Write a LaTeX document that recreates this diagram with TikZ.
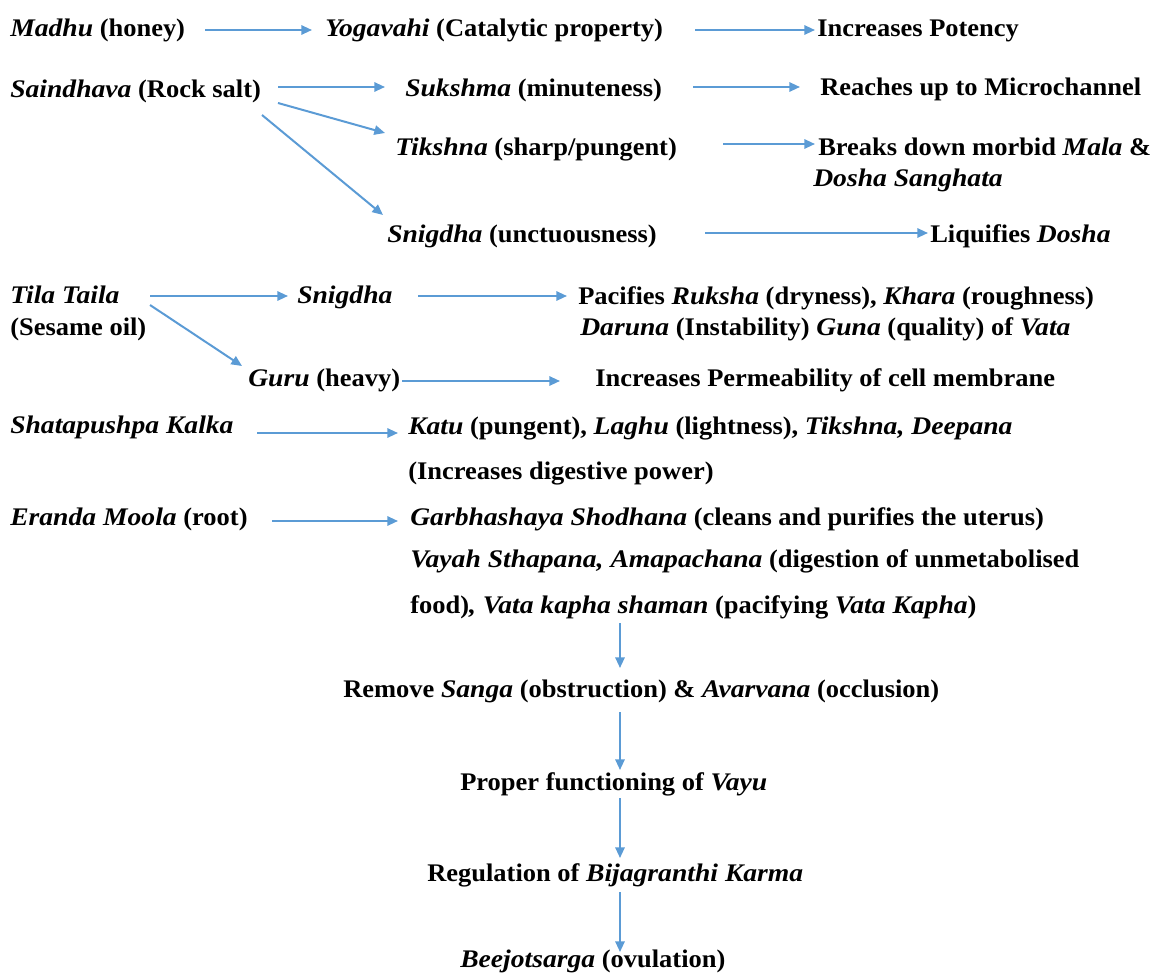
\documentclass[tikz,border=0pt]{standalone}
\usepackage{fontspec}
\setmainfont{Liberation Serif}[BoldFeatures={FakeStretch=1.045},BoldItalicFeatures={FakeStretch=1.09}]
\usetikzlibrary{arrows.meta,calc}
\definecolor{arrowblue}{HTML}{5B9BD5}
\begin{document}
\begin{tikzpicture}[x=0.75pt,y=-0.75pt,
  main node/.style={anchor=base west,inner sep=0pt,font=\bfseries\fontsize{19}{22}\selectfont},
  link/.style={draw=arrowblue,line width=1.5pt,-{Triangle[length=8pt,width=7pt]}}]
  \useasboundingbox (0,0) rectangle (1150,974);

  \node[main node] (1) at (10,37) {\textit{Madhu} (honey)};
  \node[main node] (2) at (325,37) {\textit{Yogavahi} (Catalytic property)};
  \node[main node] (3) at (817,37) {Increases Potency};
  \node[main node] (4) at (10,98) {\textit{Saindhava} (Rock salt)};
  \node[main node] (5) at (405,97) {\textit{Sukshma} (minuteness)};
  \node[main node] (6) at (820,96) {Reaches up to Microchannel};
  \node[main node] (7) at (395,156) {\textit{Tikshna} (sharp/pungent)};
  \node[main node] (8) at (818,155) {Breaks down morbid \textit{Mala} \&};
  \node[main node] (9) at (813,186) {\textit{Dosha Sanghata}};
  \node[main node] (10) at (387,242) {\textit{Snigdha} (unctuousness)};
  \node[main node] (11) at (930,242) {Liquifies \textit{Dosha}};
  \node[main node] (12) at (10,303) {\textit{Tila Taila}};
  \node[main node] (13) at (10,335) {(Sesame oil)};
  \node[main node] (14) at (297,303) {\textit{Snigdha}};
  \node[main node] (15) at (578,304) {Pacifies \textit{Ruksha} (dryness), \textit{Khara} (roughness)};
  \node[main node] (16) at (580,335) {\textit{Daruna} (Instability) \textit{Guna} (quality) of \textit{Vata}};
  \node[main node] (17) at (248,386) {\textit{Guru} (heavy)};
  \node[main node] (18) at (595,386) {Increases Permeability of cell membrane};
  \node[main node] (19) at (10,433) {\textit{Shatapushpa Kalka}};
  \node[main node] (20) at (408,434) {\textit{Katu} (pungent), \textit{Laghu} (lightness), \textit{Tikshna, Deepana}};
  \node[main node] (21) at (408,479) {(Increases digestive power)};
  \node[main node] (22) at (10,525) {\textit{Eranda Moola} (root)};
  \node[main node] (23) at (410,525) {\textit{Garbhashaya Shodhana} (cleans and purifies the uterus)};
  \node[main node] (24) at (410,567) {\textit{Vayah Sthapana, Amapachana} (digestion of unmetabolised};
  \node[main node] (25) at (410,613) {food)\textit{, Vata kapha shaman} (pacifying \textit{Vata Kapha})};
  \node[main node] (26) at (343,697) {Remove \textit{Sanga} (obstruction) \& \textit{Avarvana} (occlusion)};
  \node[main node] (27) at (460,790) {Proper functioning of \textit{Vayu}};
  \node[main node] (28) at (427,881) {Regulation of \textit{Bijagranthi Karma}};
  \node[main node] (29) at (460,967) {\textit{Beejotsarga} (ovulation)};

  \path
   ($(1.base west)+(195,-7)$) edge[link] ($(2.base west)+(-13,-7)$)
   ($(2.base west)+(370,-7)$) edge[link] ($(3.base west)+(-2,-7)$)
   ($(4.base west)+(268,-11)$) edge[link] ($(5.base west)+(-20,-10)$)
   ($(5.base west)+(288,-10)$) edge[link] ($(6.base west)+(-20,-9)$)
   ($(4.base west)+(268,5)$) edge[link] ($(7.base west)+(-10,-23)$)
   ($(7.base west)+(328,-12)$) edge[link] ($(8.base west)+(-3,-11)$)
   ($(4.base west)+(252,17)$) edge[link] ($(10.base west)+(-4,-27)$)
   ($(10.base west)+(318,-9)$) edge[link] ($(11.base west)+(-2,-9)$)
   ($(12.base west)+(140,-7)$) edge[link] ($(14.base west)+(-9,-7)$)
   ($(14.base west)+(121,-7)$) edge[link] ($(15.base west)+(-11,-8)$)
   ($(12.base west)+(140,2)$) edge[link] ($(17.base west)+(-6,-20)$)
   ($(17.base west)+(154,-5)$) edge[link] ($(18.base west)+(-35,-5)$)
   ($(19.base west)+(247,0)$) edge[link] ($(20.base west)+(-10,-1)$)
   ($(22.base west)+(262,-4)$) edge[link] ($(23.base west)+(-12,-4)$)
   ($(25.base west)+(210,10)$) edge[link] ($(26.base west)+(277,-29)$)
   ($(26.base west)+(277,15)$) edge[link] ($(27.base west)+(160,-20)$)
   ($(27.base west)+(160,8)$) edge[link] ($(28.base west)+(193,-23)$)
   ($(28.base west)+(193,11)$) edge[link] ($(29.base west)+(160,-15)$);
\end{tikzpicture}
\end{document}
